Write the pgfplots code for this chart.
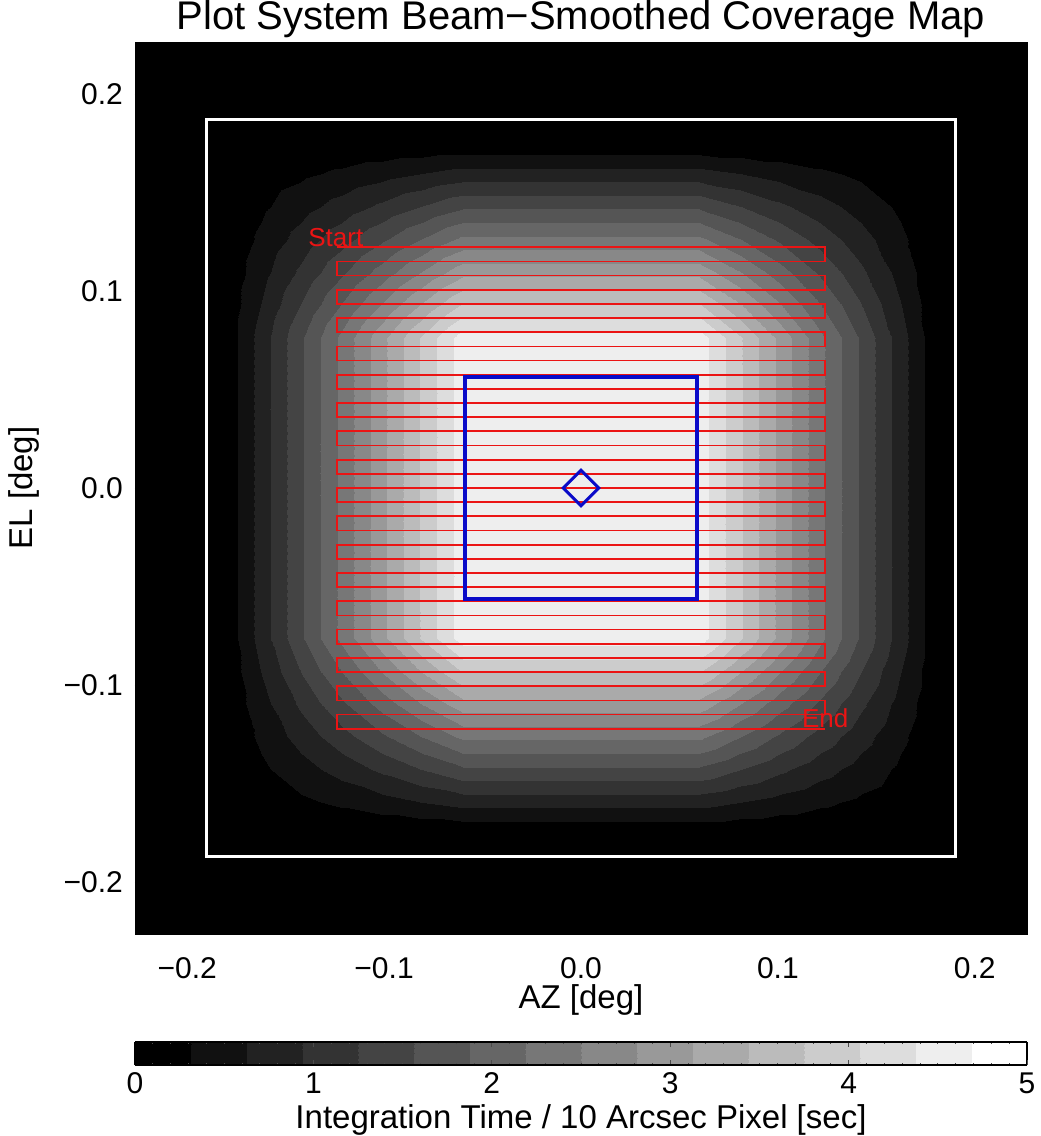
\documentclass[border=0pt]{standalone}
\usepackage{fontspec}
\setmainfont{Liberation Sans}
\usepackage{pgfplots}
\pgfplotsset{compat=1.18}
\usepackage{pgfplotstable}
\usetikzlibrary{calc}

% coverage (integration time, sec) on a lattice; x varies fastest
\pgfplotstableread{
x y c
-0.183 -0.176 0
-0.1625 -0.176 0
-0.142 -0.176 0
-0.1215 -0.176 0
-0.101 -0.176 0
-0.0805 -0.176 0
-0.060 -0.176 0
0.060 -0.176 0
0.0805 -0.176 0
0.101 -0.176 0
0.1215 -0.176 0
0.142 -0.176 0
0.1625 -0.176 0
0.183 -0.176 0
-0.183 -0.1593 0
-0.1625 -0.1593 0.126
-0.142 -0.1593 0.253
-0.1215 -0.1593 0.379
-0.101 -0.1593 0.506
-0.0805 -0.1593 0.632
-0.060 -0.1593 0.758
0.060 -0.1593 0.758
0.0805 -0.1593 0.632
0.101 -0.1593 0.506
0.1215 -0.1593 0.379
0.142 -0.1593 0.253
0.1625 -0.1593 0.126
0.183 -0.1593 0
-0.183 -0.1427 0
-0.1625 -0.1427 0.253
-0.142 -0.1427 0.506
-0.1215 -0.1427 0.758
-0.101 -0.1427 1.011
-0.0805 -0.1427 1.264
-0.060 -0.1427 1.517
0.060 -0.1427 1.517
0.0805 -0.1427 1.264
0.101 -0.1427 1.011
0.1215 -0.1427 0.758
0.142 -0.1427 0.506
0.1625 -0.1427 0.253
0.183 -0.1427 0
-0.183 -0.126 0
-0.1625 -0.126 0.379
-0.142 -0.126 0.758
-0.1215 -0.126 1.138
-0.101 -0.126 1.517
-0.0805 -0.126 1.896
-0.060 -0.126 2.275
0.060 -0.126 2.275
0.0805 -0.126 1.896
0.101 -0.126 1.517
0.1215 -0.126 1.138
0.142 -0.126 0.758
0.1625 -0.126 0.379
0.183 -0.126 0
-0.183 -0.1093 0
-0.1625 -0.1093 0.506
-0.142 -0.1093 1.011
-0.1215 -0.1093 1.517
-0.101 -0.1093 2.022
-0.0805 -0.1093 2.528
-0.060 -0.1093 3.033
0.060 -0.1093 3.033
0.0805 -0.1093 2.528
0.101 -0.1093 2.022
0.1215 -0.1093 1.517
0.142 -0.1093 1.011
0.1625 -0.1093 0.506
0.183 -0.1093 0
-0.183 -0.0927 0
-0.1625 -0.0927 0.632
-0.142 -0.0927 1.264
-0.1215 -0.0927 1.896
-0.101 -0.0927 2.528
-0.0805 -0.0927 3.160
-0.060 -0.0927 3.792
0.060 -0.0927 3.792
0.0805 -0.0927 3.160
0.101 -0.0927 2.528
0.1215 -0.0927 1.896
0.142 -0.0927 1.264
0.1625 -0.0927 0.632
0.183 -0.0927 0
-0.183 -0.076 0
-0.1625 -0.076 0.758
-0.142 -0.076 1.517
-0.1215 -0.076 2.275
-0.101 -0.076 3.033
-0.0805 -0.076 3.792
-0.060 -0.076 4.550
0.060 -0.076 4.550
0.0805 -0.076 3.792
0.101 -0.076 3.033
0.1215 -0.076 2.275
0.142 -0.076 1.517
0.1625 -0.076 0.758
0.183 -0.076 0
-0.183 0.076 0
-0.1625 0.076 0.758
-0.142 0.076 1.517
-0.1215 0.076 2.275
-0.101 0.076 3.033
-0.0805 0.076 3.792
-0.060 0.076 4.550
0.060 0.076 4.550
0.0805 0.076 3.792
0.101 0.076 3.033
0.1215 0.076 2.275
0.142 0.076 1.517
0.1625 0.076 0.758
0.183 0.076 0
-0.183 0.0927 0
-0.1625 0.0927 0.632
-0.142 0.0927 1.264
-0.1215 0.0927 1.896
-0.101 0.0927 2.528
-0.0805 0.0927 3.160
-0.060 0.0927 3.792
0.060 0.0927 3.792
0.0805 0.0927 3.160
0.101 0.0927 2.528
0.1215 0.0927 1.896
0.142 0.0927 1.264
0.1625 0.0927 0.632
0.183 0.0927 0
-0.183 0.1093 0
-0.1625 0.1093 0.506
-0.142 0.1093 1.011
-0.1215 0.1093 1.517
-0.101 0.1093 2.022
-0.0805 0.1093 2.528
-0.060 0.1093 3.033
0.060 0.1093 3.033
0.0805 0.1093 2.528
0.101 0.1093 2.022
0.1215 0.1093 1.517
0.142 0.1093 1.011
0.1625 0.1093 0.506
0.183 0.1093 0
-0.183 0.126 0
-0.1625 0.126 0.379
-0.142 0.126 0.758
-0.1215 0.126 1.138
-0.101 0.126 1.517
-0.0805 0.126 1.896
-0.060 0.126 2.275
0.060 0.126 2.275
0.0805 0.126 1.896
0.101 0.126 1.517
0.1215 0.126 1.138
0.142 0.126 0.758
0.1625 0.126 0.379
0.183 0.126 0
-0.183 0.1427 0
-0.1625 0.1427 0.253
-0.142 0.1427 0.506
-0.1215 0.1427 0.758
-0.101 0.1427 1.011
-0.0805 0.1427 1.264
-0.060 0.1427 1.517
0.060 0.1427 1.517
0.0805 0.1427 1.264
0.101 0.1427 1.011
0.1215 0.1427 0.758
0.142 0.1427 0.506
0.1625 0.1427 0.253
0.183 0.1427 0
-0.183 0.1593 0
-0.1625 0.1593 0.126
-0.142 0.1593 0.253
-0.1215 0.1593 0.379
-0.101 0.1593 0.506
-0.0805 0.1593 0.632
-0.060 0.1593 0.758
0.060 0.1593 0.758
0.0805 0.1593 0.632
0.101 0.1593 0.506
0.1215 0.1593 0.379
0.142 0.1593 0.253
0.1625 0.1593 0.126
0.183 0.1593 0
-0.183 0.176 0
-0.1625 0.176 0
-0.142 0.176 0
-0.1215 0.176 0
-0.101 0.176 0
-0.0805 0.176 0
-0.060 0.176 0
0.060 0.176 0
0.0805 0.176 0
0.101 0.176 0
0.1215 0.176 0
0.142 0.176 0
0.1625 0.176 0
0.183 0.176 0
}\covtable

\definecolor{scanred}{RGB}{235,20,20}
\definecolor{boxblue}{RGB}{10,10,200}

\begin{document}
\begin{tikzpicture}
\begin{axis}[
  name=ax,
  scale only axis, width=446pt, height=446pt,
  xmin=-0.2265, xmax=0.2265, ymin=-0.2265, ymax=0.2265,
  axis background/.style={fill=black},
  axis line style={black},
  tick style={black},
  xtick={-0.2,-0.1,0,0.1,0.2},
  xticklabels={−0.2,−0.1,0.0,0.1,0.2},
  ytick={-0.2,-0.1,0,0.1,0.2},
  yticklabels={−0.2,−0.1,0.0,0.1,0.2},
  xticklabel style={anchor=base, yshift=-22pt, font=\fontsize{15}{18}\selectfont},
  yticklabel style={anchor=east, xshift=-2.5pt, font=\fontsize{15}{18}\selectfont},
  colormap={cov}{gray(0cm)=(0); gray(1cm)=(0.0667); gray(2cm)=(0.1333); gray(3cm)=(0.2); gray(4cm)=(0.2667); gray(5cm)=(0.3333); gray(6cm)=(0.4); gray(7cm)=(0.4667); gray(8cm)=(0.5333); gray(9cm)=(0.6); gray(10cm)=(0.6667); gray(11cm)=(0.7333); gray(12cm)=(0.8); gray(13cm)=(0.8667); gray(14cm)=(0.9333); gray(15cm)=(1); gray(16cm)=(1)},
  colormap access=piecewise constant,
  point meta min=0, point meta max=5,
  colorbar horizontal,
  colorbar style={
    at={($(parent axis.south west)+(0,-45.5pt)$)}, anchor=north west,
    scale only axis, width=446pt, height=11.5pt,
    xtick={0,1,2,3,4,5}, xticklabels={0,1,2,3,4,5},
    minor x tick num=9,
    major tick length=2.5pt, minor tick length=1pt,
    tick style={black!70, line width=0.4pt},
    ytick=\empty,
    axis line style={black, line width=0.6pt},
    xticklabel style={anchor=base, yshift=-14pt, font=\fontsize{15}{18}\selectfont},
    xlabel={Integration Time / 10 Arcsec Pixel [sec]},
    xlabel style={at={(axis description cs:0.5,0)}, anchor=base, yshift=-31.5pt, font=\fontsize{16.5}{20}\selectfont},
  },
]
\addplot[surf, shader=interp, mesh/rows=14, mesh/cols=14, point meta=explicit]
  table[x=x, y=y, meta=c] {\covtable};

\addplot[white, line width=1.5pt, mark=none] coordinates {
  (-0.190,-0.1873) (0.190,-0.1873) (0.190,0.1873) (-0.190,0.1873)
} -- cycle;

\addplot[scanred, line width=0.9pt, mark=none] coordinates {
(-0.124,0.1222) (0.124,0.1222)
(0.124,0.1150) (-0.124,0.1150)
(-0.124,0.1079) (0.124,0.1079)
(0.124,0.1007) (-0.124,0.1007)
(-0.124,0.0935) (0.124,0.0935)
(0.124,0.0863) (-0.124,0.0863)
(-0.124,0.0791) (0.124,0.0791)
(0.124,0.0719) (-0.124,0.0719)
(-0.124,0.0647) (0.124,0.0647)
(0.124,0.0575) (-0.124,0.0575)
(-0.124,0.0503) (0.124,0.0503)
(0.124,0.0431) (-0.124,0.0431)
(-0.124,0.0360) (0.124,0.0360)
(0.124,0.0288) (-0.124,0.0288)
(-0.124,0.0216) (0.124,0.0216)
(0.124,0.0144) (-0.124,0.0144)
(-0.124,0.0072) (0.124,0.0072)
(0.124,0) (-0.124,0)
(-0.124,-0.0072) (0.124,-0.0072)
(0.124,-0.0144) (-0.124,-0.0144)
(-0.124,-0.0216) (0.124,-0.0216)
(0.124,-0.0288) (-0.124,-0.0288)
(-0.124,-0.0360) (0.124,-0.0360)
(0.124,-0.0431) (-0.124,-0.0431)
(-0.124,-0.0503) (0.124,-0.0503)
(0.124,-0.0575) (-0.124,-0.0575)
(-0.124,-0.0647) (0.124,-0.0647)
(0.124,-0.0719) (-0.124,-0.0719)
(-0.124,-0.0791) (0.124,-0.0791)
(0.124,-0.0863) (-0.124,-0.0863)
(-0.124,-0.0935) (0.124,-0.0935)
(0.124,-0.1007) (-0.124,-0.1007)
(-0.124,-0.1079) (0.124,-0.1079)
(0.124,-0.1150) (-0.124,-0.1150)
(-0.124,-0.1222) (0.124,-0.1222)
};

\addplot[boxblue, line width=2pt, mark=none] coordinates {
  (-0.0589,-0.0563) (0.0589,-0.0563) (0.0589,0.0563) (-0.0589,0.0563)
} -- cycle;

\addplot[boxblue, line width=1.5pt, mark=none] coordinates {
  (0.009,0) (0,0.009) (-0.009,0) (0,-0.009)
} -- cycle;

\node[scanred, anchor=south, inner sep=0pt, font=\fontsize{13}{15}\selectfont] at (axis cs:-0.1245,0.1222) {Start};
\node[scanred, anchor=south, inner sep=0pt, font=\fontsize{13}{15}\selectfont] at (axis cs:0.124,-0.1222) {End};
\end{axis}

\node[anchor=base, font=\fontsize{20}{24}\selectfont] at ([yshift=6pt]ax.north) {Plot System Beam−Smoothed Coverage Map};
\node[anchor=base, font=\fontsize{16.5}{20}\selectfont] at ([yshift=-37pt]ax.south) {AZ [deg]};
\node[rotate=90, anchor=base, font=\fontsize{16.5}{20}\selectfont] at ([xshift=-51pt]ax.west) {EL [deg]};

\pgfresetboundingbox
\path ([shift={(-67.5pt,-101pt)}]ax.south west) rectangle ([shift={(6.5pt,21pt)}]ax.north east);
\end{tikzpicture}
\end{document}
